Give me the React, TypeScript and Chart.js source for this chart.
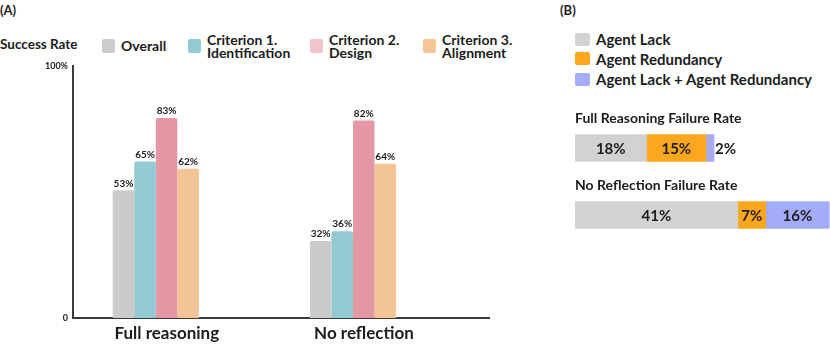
import React, { useEffect, useRef } from 'react';
import { Chart, registerables } from 'chart.js';

Chart.register(...registerables);

// ---- Panel A data ----
const groups = ['Full reasoning', 'No reflection'];
const seriesNames = ['Overall', 'Criterion 1.\nIdentification', 'Criterion 2.\nDesign', 'Criterion 3.\nAlignment'];
const overall = [53, 32];
const criterion1 = [65, 36];
const criterion2 = [83, 82];
const criterion3 = [62, 64];
const yTickLabels = ['0', '100%'];

// ---- Panel B data ----
const failureRows = ['Full Reasoning Failure Rate', 'No Reflection Failure Rate'];
const failureNames = ['Agent Lack', 'Agent Redundancy', 'Agent Lack + Agent Redundancy'];
const agentLack = [18, 41];
const agentRedundancy = [15, 7];
const agentBoth = [2, 16];

const FONT = 'Lato, "Noto Sans", sans-serif';
const INK = '#1c1c1c';
const barColors = ['#cbcbcb', '#91cad3', '#e498a6', '#f3c495'];
const legendColors = ['#cccccc', '#92cbd3', '#f1c3cb', '#f5c597'];
const failColors = ['#d2d2d2', '#fca71d', '#a4acf9'];

const Y_TOP = 104.6;

const panelALabels = {
  id: 'panelALabels',
  afterDatasetsDraw(chart: any) {
    const ctx = chart.ctx;
    ctx.save();
    ctx.font = `bold 10px ${FONT}`;
    ctx.fillStyle = INK;
    ctx.textAlign = 'center';
    ctx.textBaseline = 'bottom';
    chart.data.datasets.forEach((ds: any, di: number) => {
      const meta = chart.getDatasetMeta(di);
      meta.data.forEach((el: any, i: number) => {
        const v = ds.data[i].y;
        ctx.fillText(`${v}%`, el.x, el.y - 2);
      });
    });
    ctx.restore();
  },
};

const panelBLabels = {
  id: 'panelBLabels',
  afterDatasetsDraw(chart: any) {
    const ctx = chart.ctx;
    ctx.save();
    ctx.fillStyle = INK;
    // row titles
    const meta0 = chart.getDatasetMeta(0);
    ctx.font = `bold 14px ${FONT}`;
    ctx.textAlign = 'left';
    ctx.textBaseline = 'middle';
    meta0.data.forEach((el: any, i: number) => {
      ctx.fillText(failureRows[i], chart.chartArea.left, el.y - el.height / 2 - 16);
    });
    // values
    ctx.font = `bold 15px ${FONT}`;
    chart.data.datasets.forEach((ds: any, di: number) => {
      const meta = chart.getDatasetMeta(di);
      meta.data.forEach((el: any, i: number) => {
        const txt = `${ds.data[i]}%`;
        const w = ctx.measureText(txt).width;
        const segW = Math.abs(el.x - el.base);
        if (segW > w + 4) {
          ctx.textAlign = 'center';
          ctx.fillText(txt, (el.x + el.base) / 2, el.y + 1);
        } else {
          ctx.textAlign = 'left';
          ctx.fillText(txt, el.x + 1, el.y + 1);
        }
      });
    });
    ctx.restore();
  },
};

function PanelA() {
  const ref = useRef<HTMLCanvasElement>(null);
  useEffect(() => {
    const series = [overall, criterion1, criterion2, criterion3];
    const chart = new Chart(ref.current as HTMLCanvasElement, {
      type: 'bar',
      data: {
        datasets: series.map((vals, i) => ({
          label: seriesNames[i],
          data: vals.map((v, j) => ({ x: j, y: v })),
          backgroundColor: barColors[i],
          borderWidth: 0,
          borderRadius: { topLeft: 2, topRight: 2, bottomLeft: 0, bottomRight: 0 },
          borderSkipped: 'bottom',
          categoryPercentage: 0.437,
          barPercentage: 1,
        })),
      } as any,
      options: {
        animation: false,
        responsive: false,
        maintainAspectRatio: false,
        events: [],
        layout: { padding: { left: 0, right: 31, top: 16, bottom: 0 } },
        plugins: { legend: { display: false }, tooltip: { enabled: false } },
        scales: {
          x: {
            type: 'linear',
            offset: false,
            min: -0.42,
            max: 1.69,
            grid: { display: false, drawTicks: false, offset: false },
            border: { display: true, color: '#3a3a3a', width: 2 },
            afterBuildTicks: (s: any) => {
              s.ticks = groups.map((_, i) => ({ value: i }));
            },
            afterFit: (s: any) => {
              s.height = 27;
            },
            ticks: {
              autoSkip: false,
              maxRotation: 0,
              padding: 5,
              labelOffset: 11,
              color: INK,
              font: { family: FONT, size: 17, weight: 'bold' },
              callback: (v: any) => groups[v] ?? '',
            },
          },
          y: {
            type: 'linear',
            min: 0,
            max: Y_TOP,
            grid: { display: false, drawTicks: false },
            border: { display: true, color: '#3a3a3a', width: 2 },
            afterBuildTicks: (s: any) => {
              s.ticks = [{ value: 0 }, { value: Y_TOP }];
            },
            afterFit: (s: any) => {
              s.width = 73;
            },
            ticks: {
              padding: 5,
              color: INK,
              font: { family: FONT, size: 9, weight: 'bold' },
              callback: (_v: any, i: number) => yTickLabels[i],
            },
          },
        },
      } as any,
      plugins: [panelALabels],
    });
    return () => chart.destroy();
  }, []);
  return <canvas ref={ref} width={520} height={295} style={{ position: 'absolute', left: 0, top: 50, width: 520, height: 295 }} />;
}

function PanelB() {
  const ref = useRef<HTMLCanvasElement>(null);
  useEffect(() => {
    const series = [agentLack, agentRedundancy, agentBoth];
    const chart = new Chart(ref.current as HTMLCanvasElement, {
      type: 'bar',
      data: {
        labels: failureRows,
        datasets: series.map((vals, i) => ({
          label: failureNames[i],
          data: vals,
          backgroundColor: failColors[i],
          borderWidth: 0,
          barThickness: 27,
        })),
      },
      options: {
        indexAxis: 'y',
        animation: false,
        responsive: false,
        maintainAspectRatio: false,
        events: [],
        layout: { padding: { left: 15, right: 0, top: 14.5, bottom: 11.5 } },
        plugins: { legend: { display: false }, tooltip: { enabled: false } },
        scales: {
          x: { stacked: true, min: 0, max: 64.2, display: false },
          y: { stacked: true, display: false },
        },
      } as any,
      plugins: [panelBLabels],
    });
    return () => chart.destroy();
  }, []);
  return <canvas ref={ref} width={270} height={160} style={{ position: 'absolute', left: 560, top: 100, width: 270, height: 160 }} />;
}

const legendALefts = [102, 188, 310, 423];
const legendBCenters = [39, 58.5, 79];

export default function App() {
  const text: React.CSSProperties = { fontFamily: FONT, fontWeight: 700, color: INK, position: 'absolute', whiteSpace: 'pre' };
  return (
    <div style={{ position: 'absolute', left: 0, top: 0, width: 830, height: 345, background: '#fff', overflow: 'hidden' }}>
      <div style={{ ...text, left: 0, top: 2, fontSize: 13, lineHeight: '16px' }}>(A)</div>
      <div style={{ ...text, left: 560, top: 2, fontSize: 13, lineHeight: '16px' }}>(B)</div>

      <div style={{ ...text, left: 0, top: 36, fontSize: 13.5, lineHeight: '16px' }}>Success Rate</div>
      {seriesNames.map((name, i) => (
        <div key={name} style={{ position: 'absolute', left: legendALefts[i], top: 31, height: 30, display: 'flex', alignItems: 'center' }}>
          <div style={{ width: 13, height: 14, borderRadius: 2, background: legendColors[i], marginRight: 6 }} />
          <div style={{ fontFamily: FONT, fontWeight: 700, color: INK, fontSize: 14, lineHeight: '13.5px', whiteSpace: 'pre' }}>{name}</div>
        </div>
      ))}

      {failureNames.map((name, i) => (
        <div key={name} style={{ position: 'absolute', left: 575, top: legendBCenters[i] - 10, height: 20, display: 'flex', alignItems: 'center' }}>
          <div style={{ width: 15, height: 13, borderRadius: 2, background: failColors[i], marginRight: 6 }} />
          <div style={{ fontFamily: FONT, fontWeight: 700, color: INK, fontSize: 15, lineHeight: '18px', whiteSpace: 'pre' }}>{name}</div>
        </div>
      ))}

      <PanelA />
      <PanelB />
    </div>
  );
}
